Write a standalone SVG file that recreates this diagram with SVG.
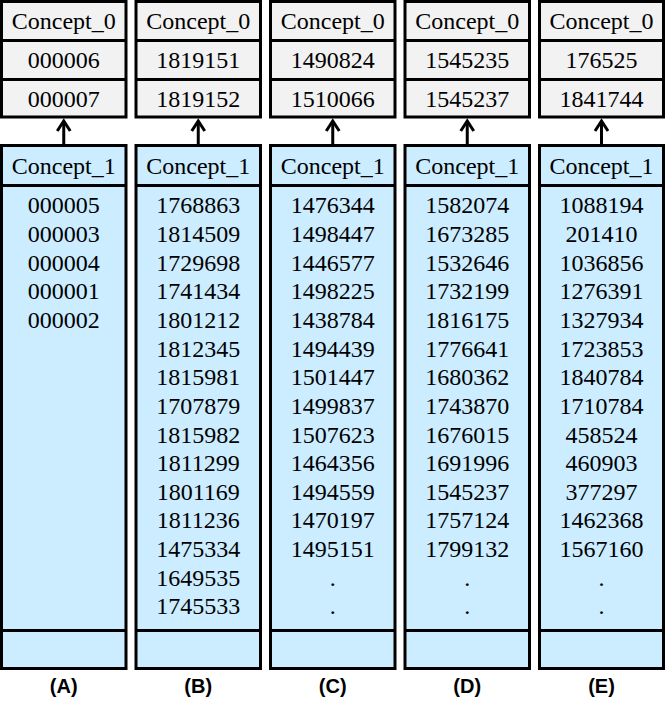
<svg xmlns="http://www.w3.org/2000/svg" width="665" height="701" viewBox="0 0 665 701">
<style>
.top{fill:#f2f2f2;stroke:#000;stroke-width:3}
.bot{fill:#ccecff;stroke:#000;stroke-width:3}
.div{stroke:#000;stroke-width:3}
.t{font-family:"Liberation Serif","Times New Roman",serif;font-size:24px;fill:#000;text-anchor:middle}
.lab{font-family:"Liberation Sans",Arial,sans-serif;font-size:20px;font-weight:bold;fill:#000;text-anchor:middle}
.conn{stroke:#000;stroke-width:3;fill:none}
</style>
<defs>
<marker id="chev" markerUnits="userSpaceOnUse" viewBox="-12 -8 14 16" refX="0" refY="0" markerWidth="14" markerHeight="16" orient="auto" overflow="visible">
<polyline points="-10,-6.5 0,0 -10,6.5" fill="none" stroke="#000" stroke-width="3"/>
</marker>
</defs>

<!-- Column A -->
<g id="A_concept0">
<rect class="top" x="1.5" y="1.5" width="124.5" height="115.5"/>
<line class="div" x1="1.5" y1="40.6" x2="126" y2="40.6"/>
<line class="div" x1="1.5" y1="79.6" x2="126" y2="79.6"/>
<text class="t" x="63.75" y="29">Concept_0</text>
<text class="t" x="63.75" y="68.3">000006</text>
<text class="t" x="63.75" y="106.5">000007</text>
</g>
<g id="A_concept1">
<rect class="bot" x="1.5" y="145.5" width="124.5" height="523"/>
<line class="div" x1="1.5" y1="185.5" x2="126" y2="185.5"/>
<line class="div" x1="1.5" y1="630.5" x2="126" y2="630.5"/>
<text class="t" x="63.75" y="173.8">Concept_1</text>
<text class="t" x="63.75" y="213.3">000005<tspan x="63.75" dy="28.65">000003</tspan><tspan x="63.75" dy="28.65">000004</tspan><tspan x="63.75" dy="28.65">000001</tspan><tspan x="63.75" dy="28.65">000002</tspan></text>
</g>
<text class="lab" x="63.75" y="693">(A)</text>

<!-- Column B -->
<g id="B_concept0">
<rect class="top" x="136" y="1.5" width="124.5" height="115.5"/>
<line class="div" x1="136" y1="40.6" x2="260.5" y2="40.6"/>
<line class="div" x1="136" y1="79.6" x2="260.5" y2="79.6"/>
<text class="t" x="198.25" y="29">Concept_0</text>
<text class="t" x="198.25" y="68.3">1819151</text>
<text class="t" x="198.25" y="106.5">1819152</text>
</g>
<g id="B_concept1">
<rect class="bot" x="136" y="145.5" width="124.5" height="523"/>
<line class="div" x1="136" y1="185.5" x2="260.5" y2="185.5"/>
<line class="div" x1="136" y1="630.5" x2="260.5" y2="630.5"/>
<text class="t" x="198.25" y="173.8">Concept_1</text>
<text class="t" x="198.25" y="213.3">1768863<tspan x="198.25" dy="28.65">1814509</tspan><tspan x="198.25" dy="28.65">1729698</tspan><tspan x="198.25" dy="28.65">1741434</tspan><tspan x="198.25" dy="28.65">1801212</tspan><tspan x="198.25" dy="28.65">1812345</tspan><tspan x="198.25" dy="28.65">1815981</tspan><tspan x="198.25" dy="28.65">1707879</tspan><tspan x="198.25" dy="28.65">1815982</tspan><tspan x="198.25" dy="28.65">1811299</tspan><tspan x="198.25" dy="28.65">1801169</tspan><tspan x="198.25" dy="28.65">1811236</tspan><tspan x="198.25" dy="28.65">1475334</tspan><tspan x="198.25" dy="28.65">1649535</tspan><tspan x="198.25" dy="28.65">1745533</tspan></text>
</g>
<text class="lab" x="198.25" y="693">(B)</text>

<!-- Column C -->
<g id="C_concept0">
<rect class="top" x="270.5" y="1.5" width="124.5" height="115.5"/>
<line class="div" x1="270.5" y1="40.6" x2="395" y2="40.6"/>
<line class="div" x1="270.5" y1="79.6" x2="395" y2="79.6"/>
<text class="t" x="332.75" y="29">Concept_0</text>
<text class="t" x="332.75" y="68.3">1490824</text>
<text class="t" x="332.75" y="106.5">1510066</text>
</g>
<g id="C_concept1">
<rect class="bot" x="270.5" y="145.5" width="124.5" height="523"/>
<line class="div" x1="270.5" y1="185.5" x2="395" y2="185.5"/>
<line class="div" x1="270.5" y1="630.5" x2="395" y2="630.5"/>
<text class="t" x="332.75" y="173.8">Concept_1</text>
<text class="t" x="332.75" y="213.3">1476344<tspan x="332.75" dy="28.65">1498447</tspan><tspan x="332.75" dy="28.65">1446577</tspan><tspan x="332.75" dy="28.65">1498225</tspan><tspan x="332.75" dy="28.65">1438784</tspan><tspan x="332.75" dy="28.65">1494439</tspan><tspan x="332.75" dy="28.65">1501447</tspan><tspan x="332.75" dy="28.65">1499837</tspan><tspan x="332.75" dy="28.65">1507623</tspan><tspan x="332.75" dy="28.65">1464356</tspan><tspan x="332.75" dy="28.65">1494559</tspan><tspan x="332.75" dy="28.65">1470197</tspan><tspan x="332.75" dy="28.65">1495151</tspan><tspan x="332.75" dy="28.65">.</tspan><tspan x="332.75" dy="28.65">.</tspan></text>
</g>
<text class="lab" x="332.75" y="693">(C)</text>

<!-- Column D -->
<g id="D_concept0">
<rect class="top" x="405" y="1.5" width="124.5" height="115.5"/>
<line class="div" x1="405" y1="40.6" x2="529.5" y2="40.6"/>
<line class="div" x1="405" y1="79.6" x2="529.5" y2="79.6"/>
<text class="t" x="467.25" y="29">Concept_0</text>
<text class="t" x="467.25" y="68.3">1545235</text>
<text class="t" x="467.25" y="106.5">1545237</text>
</g>
<g id="D_concept1">
<rect class="bot" x="405" y="145.5" width="124.5" height="523"/>
<line class="div" x1="405" y1="185.5" x2="529.5" y2="185.5"/>
<line class="div" x1="405" y1="630.5" x2="529.5" y2="630.5"/>
<text class="t" x="467.25" y="173.8">Concept_1</text>
<text class="t" x="467.25" y="213.3">1582074<tspan x="467.25" dy="28.65">1673285</tspan><tspan x="467.25" dy="28.65">1532646</tspan><tspan x="467.25" dy="28.65">1732199</tspan><tspan x="467.25" dy="28.65">1816175</tspan><tspan x="467.25" dy="28.65">1776641</tspan><tspan x="467.25" dy="28.65">1680362</tspan><tspan x="467.25" dy="28.65">1743870</tspan><tspan x="467.25" dy="28.65">1676015</tspan><tspan x="467.25" dy="28.65">1691996</tspan><tspan x="467.25" dy="28.65">1545237</tspan><tspan x="467.25" dy="28.65">1757124</tspan><tspan x="467.25" dy="28.65">1799132</tspan><tspan x="467.25" dy="28.65">.</tspan><tspan x="467.25" dy="28.65">.</tspan></text>
</g>
<text class="lab" x="467.25" y="693">(D)</text>

<!-- Column E -->
<g id="E_concept0">
<rect class="top" x="539.5" y="1.5" width="124" height="115.5"/>
<line class="div" x1="539.5" y1="40.6" x2="663.5" y2="40.6"/>
<line class="div" x1="539.5" y1="79.6" x2="663.5" y2="79.6"/>
<text class="t" x="601.5" y="29">Concept_0</text>
<text class="t" x="601.5" y="68.3">176525</text>
<text class="t" x="601.5" y="106.5">1841744</text>
</g>
<g id="E_concept1">
<rect class="bot" x="539.5" y="145.5" width="124" height="523"/>
<line class="div" x1="539.5" y1="185.5" x2="663.5" y2="185.5"/>
<line class="div" x1="539.5" y1="630.5" x2="663.5" y2="630.5"/>
<text class="t" x="601.5" y="173.8">Concept_1</text>
<text class="t" x="601.5" y="213.3">1088194<tspan x="601.5" dy="28.65">201410</tspan><tspan x="601.5" dy="28.65">1036856</tspan><tspan x="601.5" dy="28.65">1276391</tspan><tspan x="601.5" dy="28.65">1327934</tspan><tspan x="601.5" dy="28.65">1723853</tspan><tspan x="601.5" dy="28.65">1840784</tspan><tspan x="601.5" dy="28.65">1710784</tspan><tspan x="601.5" dy="28.65">458524</tspan><tspan x="601.5" dy="28.65">460903</tspan><tspan x="601.5" dy="28.65">377297</tspan><tspan x="601.5" dy="28.65">1462368</tspan><tspan x="601.5" dy="28.65">1567160</tspan><tspan x="601.5" dy="28.65">.</tspan><tspan x="601.5" dy="28.65">.</tspan></text>
</g>
<text class="lab" x="601.5" y="693">(E)</text>

<g id="connectors">
<line class="conn" x1="63.75" y1="144" x2="63.75" y2="121" marker-end="url(#chev)"/>
<line class="conn" x1="198.25" y1="144" x2="198.25" y2="121" marker-end="url(#chev)"/>
<line class="conn" x1="332.75" y1="144" x2="332.75" y2="121" marker-end="url(#chev)"/>
<line class="conn" x1="467.25" y1="144" x2="467.25" y2="121" marker-end="url(#chev)"/>
<line class="conn" x1="601.5" y1="144" x2="601.5" y2="121" marker-end="url(#chev)"/>
</g>
</svg>
